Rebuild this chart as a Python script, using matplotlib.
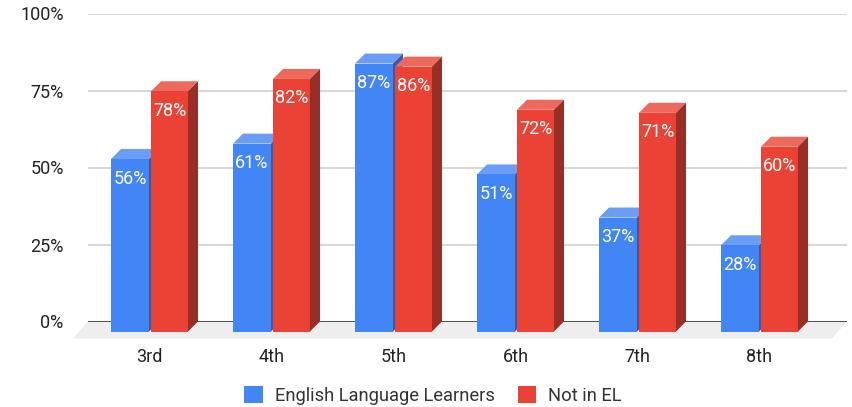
import matplotlib
matplotlib.use("Agg")
import matplotlib.pyplot as plt
from matplotlib.patches import Patch, Polygon

plt.rcParams["font.family"] = ["Roboto", "DejaVu Sans"]

grades = ["3rd", "4th", "5th", "6th", "7th", "8th"]
el_values = [56, 61, 87, 51, 37, 28]
not_el_values = [78, 82, 86, 72, 71, 60]
y_ticks = [0, 25, 50, 75, 100]
y_labels = ["0%", "25%", "50%", "75%", "100%"]

W, H = 852, 407
px_x = 122.0   # pixels per category
px_y = 3.08    # pixels per percent
dx = 10 / px_x
dy = 10 / px_y

fig = plt.figure(figsize=(W / 100, H / 100), dpi=100)
ax = fig.add_axes([88 / W, (H - 321.5) / H, (847 - 88) / W, 308 / H])
ax.set_xlim((88 - 149.5) / px_x, (847 - 149.5) / px_x)
ax.set_ylim(0, 100)
for s in ax.spines.values():
    s.set_visible(False)

x0, x1 = ax.get_xlim()
ax.add_patch(Polygon([(x0, 0), (x1, 0), (x1 - 15 / px_x, -17 / px_y), (x0 - 15 / px_x, -17 / px_y)],
                     closed=True, fc="#eeeeee", ec="none", clip_on=False, zorder=1))

ax.set_yticks(y_ticks, y_labels)
ax.set_xticks(range(len(grades)), grades)
ax.tick_params(axis="both", length=0, labelsize=13, labelcolor="#222222")
ax.tick_params(axis="y", pad=17.5)
ax.tick_params(axis="x", pad=19)
ax.grid(axis="y", color="#cfcfcf", lw=1.2, zorder=2)
ax.grid(axis="x", visible=False)
ax.axhline(0, color="#444444", lw=1.3, zorder=3)


def draw_bars(values, left, width, front, top, side, z):
    # front face through bar(), top and side as parallelograms
    xs = [i + left / px_x + width / px_x / 2 for i in range(len(values))]
    w = width / px_x
    ax.bar(xs, values, width=w, bottom=-dy, color=front, clip_on=False, zorder=z + 0.2)
    for x, v in zip(xs, values):
        l, r = x - w / 2, x + w / 2
        t = v - dy
        ax.add_patch(Polygon([(l, t), (r, t), (r + dx, v), (l + dx, v)], closed=True,
                             fc=top, ec="none", clip_on=False, zorder=z))
        ax.add_patch(Polygon([(r, t), (r + dx, v), (r + dx, 0), (r, -dy)], closed=True,
                             fc=side, ec="none", clip_on=False, zorder=z))
        ax.annotate(f"{v}%", (x, t), xytext=(0, -19.5 * 0.72), textcoords="offset points",
                    ha="center", va="center", color="white", fontsize=13, zorder=z + 0.4)


draw_bars(el_values, -38.5, 38, "#4285f4", "#6a9ef6", "#2e5dab", 4)
draw_bars(not_el_values, 1.5, 37, "#ea4335", "#ee695d", "#982e25", 5)

fig.legend(handles=[Patch(fc="#4285f4", label="English Language Learners"),
                    Patch(fc="#ea4335", label="Not in EL")],
           loc="center", bbox_to_anchor=(433 / W, (H - 395.5) / H), ncol=2, frameon=False,
           fontsize=13.2, handlelength=1.0, handleheight=1.0, handletextpad=0.66, columnspacing=1.25,
           labelcolor="#333333")

fig.savefig("out.png", dpi=100)
